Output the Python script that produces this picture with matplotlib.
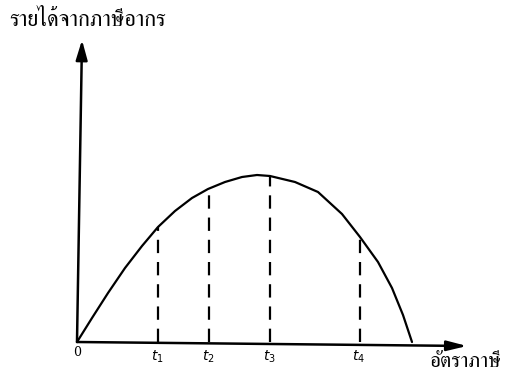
import matplotlib
matplotlib.use("Agg")
import matplotlib.pyplot as plt
from matplotlib import font_manager
from matplotlib.ft2font import FT2Font

# ---- data ----
curve_x = [0, 15, 31, 48, 65, 81, 98, 115, 131, 148, 165, 180, 193, 218,
           241, 265, 283, 301, 315, 326, 335]
curve_y = [0, 24, 49, 74, 96, 115, 131, 144, 153, 160, 165, 167, 166, 160,
           150, 128, 105, 80, 54, 27, 0]
rate_x = [81, 132, 193, 283]
rate_y = [115, 153, 166, 105]
rate_labels = ["$t_1$", "$t_2$", "$t_3$", "$t_4$"]
y_label = "รายได้จากภาษีอากร"
x_label = "อัตราภาษี"
origin_label = "0"

# pick a font that has Thai glyphs
names = []
for f in font_manager.fontManager.ttflist:
    try:
        ft = FT2Font(f.fname)
        cm = ft.get_charmap()
        if 0x0E23 in cm and 0x0E32 in cm:
            names.append(f.name)
    except Exception:
        pass
fams = sorted(set(names))
pref = [n for n in fams if "Serif" in n] + [n for n in fams if "Serif" not in n]
family = (pref[:1] if pref else []) + ["DejaVu Serif"]

fig = plt.figure(figsize=(5.11, 3.85), dpi=100)
ax = fig.add_axes([0, 0, 1, 1])
ax.set_xlim(-77, 434)
ax.set_ylim(-43, 342)
ax.axis("off")

# axes with arrows
ax.annotate("", xy=(5, 302), xytext=(0, 0),
            arrowprops=dict(arrowstyle="-|>,head_length=1.2,head_width=0.35",
                            color="black", lw=1.8, shrinkA=0, shrinkB=0))
ax.annotate("", xy=(390, -4), xytext=(0, 0),
            arrowprops=dict(arrowstyle="-|>,head_length=1.2,head_width=0.3",
                            color="black", lw=1.8, shrinkA=0, shrinkB=0))

# curve
ax.plot(curve_x, curve_y, color="black", lw=1.6, solid_joinstyle="round",
        solid_capstyle="round")

# dashed verticals
for xv, yv in zip(rate_x, rate_y):
    ax.plot([xv, xv], [0, yv], color="black", lw=1.6, dashes=(6, 4))

# labels
ax.text(0, -10, origin_label, ha="center", va="center", fontsize=9,
        family="DejaVu Serif")
for xv, lab in zip(rate_x, rate_labels):
    ax.text(xv - 1, -15, lab, ha="center", va="center", fontsize=10,
            family="DejaVu Serif")
ax.text(-68, 321, y_label, ha="left", va="center", fontsize=16, family=family)
ax.text(353, -20, x_label, ha="left", va="center", fontsize=15, family=family)

fig.savefig("out.png", dpi=100)
